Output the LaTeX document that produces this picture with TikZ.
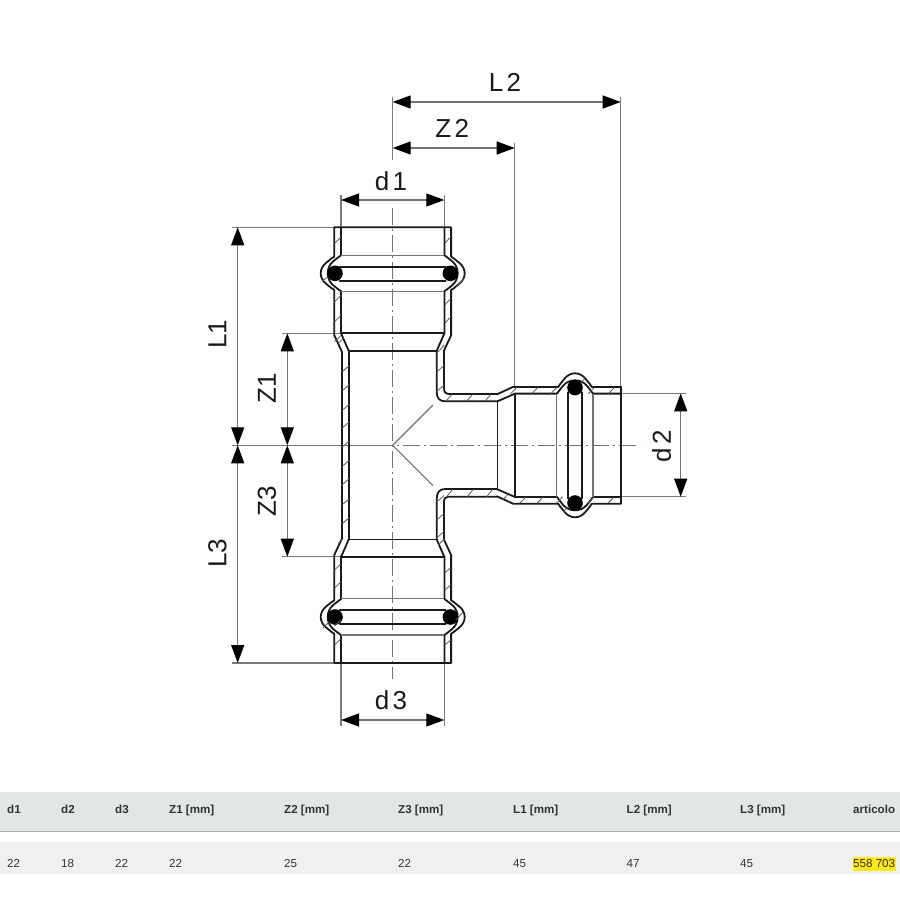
\documentclass[tikz,border=0pt]{standalone}
\usepackage{fontspec}
\setmainfont{Liberation Sans}
\usetikzlibrary{arrows.meta}
\definecolor{ink}{HTML}{1A1A1A}
\definecolor{extgray}{HTML}{7A7A7A}
\definecolor{hdrband}{HTML}{E3E6E7}
\definecolor{rowband}{HTML}{EFF1F1}
\definecolor{hdrline}{HTML}{ABABAB}
\definecolor{tabtext}{HTML}{333333}
\definecolor{hilite}{HTML}{FFE81A}
\tikzset{
  wall/.style={draw=ink,line width=1.8pt,line join=round,line cap=round},
  thinln/.style={draw=black!55,line width=1.1pt},
  ext/.style={draw=extgray,line width=1.1pt},
  hatchln/.style={draw=black!65,line width=0.8pt},
  axisln/.style={draw=black!55,line width=1.1pt,dash pattern=on 17pt off 4pt on 2pt off 4pt},
  dimln/.style={draw=black!55,line width=1.2pt,
    {Triangle[length=18pt,width=13pt,black]}-{Triangle[length=18pt,width=13pt,black]}},
  bigtxt/.style={inner sep=0pt,anchor=base,text=ink,font=\fontsize{26}{30}\selectfont},
  rottxt/.style={inner sep=0pt,rotate=90,text=ink,font=\fontsize{26}{30}\selectfont},
  hdtxt/.style={inner sep=0pt,anchor=base west,text=tabtext,font=\fontsize{11.6}{14}\selectfont\bfseries},
  rowtxt/.style={inner sep=0pt,anchor=base west,text=tabtext,font=\fontsize{11.6}{14}\selectfont},
  ring/.style={fill=black,draw=none}
}
\newcommand{\halfsocket}[4]{%
\begin{scope}[shift={(#1pt,-#2pt)},x={#3},y={#4}]
  \draw[wall] (0,0) -- (0,58.4) -- (29.3,58.4)
    .. controls (30,60.5) and (32.5,62.5) .. (35,66)
    .. controls (38,70) and (42,72) .. (46,72)
    .. controls (50,72) and (54,70) .. (57,66)
    .. controls (59.5,62.5) and (62,60.5) .. (62.7,58.4)
    -- (108,58.4) -- (124,51);
  \draw[wall] (0,51.7) -- (28,51.7)
    .. controls (30,54.5) and (32,57) .. (34,59.5)
    .. controls (37,63) and (41,65) .. (46,65)
    .. controls (51,65) and (55,63) .. (58,59.5)
    .. controls (60,57) and (62,54.5) .. (64,51.7)
    -- (106,51.7) -- (123.5,44);
  \draw[thinln] (28,0) -- (28,51.7);
  \draw[thinln] (64.5,0) -- (64.5,51.7);
  \draw[wall] (39.4,0) -- (39.4,53);
  \draw[wall] (53.4,0) -- (53.4,53);
  \draw[wall] (106,0) -- (106,51.7);
  \draw[wall] (123.5,0) -- (123.5,44);
  \fill[ring] (46,57.7) circle[radius=7.8];
\end{scope}}
\begin{document}
\begin{tikzpicture}[x=1pt,y=-1pt]
\useasboundingbox (0,0) rectangle (900,900);
\fill[white] (0,0) rectangle (900,900);

% centre lines and extension lines
\coordinate (cc) at (392.7,445.3);
\coordinate (axT) at (392.7,208);
\coordinate (axB) at (392.7,679);
\coordinate (axL) at (376,445.3);
\coordinate (axR) at (640,445.3);
\draw[axisln] (axT) -- (axB);
\draw[axisln] (axL) -- (axR);
\draw[thinln] (232,445.3) -- (axL);
\draw[ext] (392.7,96.7) -- (392.7,160);
\draw[ext] (514.7,142.7) -- (514.7,387.3);
\draw[ext] (620.7,96.7) -- (620.7,387.3);
\draw[ext] (341,195) -- (341,227.3);
\draw[ext] (444.3,195) -- (444.3,227.3);
\draw[ext] (341,663) -- (341,726);
\draw[ext] (444.3,663) -- (444.3,726);
\draw[ext] (232,227.3) -- (334.3,227.3);
\draw[ext] (232,663) -- (334.3,663);
\draw[ext] (282,333.3) -- (341,333.3);
\draw[ext] (282,556.7) -- (341,556.7);
\draw[ext] (621,393.3) -- (686,393.3);
\draw[ext] (621,496.7) -- (686,496.7);
\draw[thinln] (cc) -- (433,405);
\draw[thinln] (cc) -- (433,485.7);

% sockets
\halfsocket{392.7}{227.3}{(0pt,-1pt)}{(1pt,0pt)}
\halfsocket{392.7}{227.3}{(0pt,-1pt)}{(-1pt,0pt)}
\halfsocket{392.7}{663}{(0pt,1pt)}{(1pt,0pt)}
\halfsocket{392.7}{663}{(0pt,1pt)}{(-1pt,0pt)}
\halfsocket{621}{445.3}{(-1pt,0pt)}{(0pt,1pt)}
\halfsocket{621}{445.3}{(-1pt,0pt)}{(0pt,-1pt)}

% body walls
\draw[wall] (342,351.5) -- (342,539);
\draw[wall] (349.3,350.5) -- (349.3,539.3);
\draw[wall] (444,351.5) -- (444,388) .. controls (444,392) and (445.5,394) .. (448.3,394) -- (497.3,394);
\draw[wall] (436.7,350.5) -- (436.7,391.7) .. controls (436.7,398) and (439.5,401.3) .. (445,401.3) -- (497.3,401.3);
\draw[wall] (444,539) -- (444,502) .. controls (444,498.5) and (445.5,496.7) .. (448.3,496.7) -- (497.3,496.7);
\draw[wall] (436.7,539.3) -- (436.7,499) .. controls (436.7,492.5) and (439.5,489) .. (445,489) -- (497.3,489);

% hatching
\foreach \yy in {372,391,410.7,428.3,447.3,466.7,485,505,524}{
  \draw[hatchln] (342,\yy) -- (349.3,\yy-6.5);}
\foreach \yy in {372,391.5,502,520,538}{
  \draw[hatchln] (436.7,\yy) -- (444,\yy-6.5);}
\foreach \xx in {446,466.7,485}{
  \draw[hatchln] (\xx,401) -- (\xx+6,394.3);}
\foreach \xx in {446.7,467.3,486.7}{
  \draw[hatchln] (\xx,496.7) -- (\xx+6,489.3);}
\foreach \xx in {510.7,531.7,550.7,588.3,608.3}{
  \draw[hatchln] (\xx,393.7) -- (\xx+6,387.5);}
\foreach \xx in {520,537.3,556.7,588.3,608.3}{
  \draw[hatchln] (\xx,503) -- (\xx+6,496.8);}
\draw[hatchln] (502.7,500) -- (507.3,495);
\draw[hatchln] (581.7,381.7) -- (585,378.3);
\draw[hatchln] (563.3,511.7) -- (568.3,506.7);
\foreach \yy in {243.3,301.7,321.7,341.7}{
  \draw[hatchln] (334.6,\yy) -- (340.7,\yy-6);}
\foreach \yy in {243.3,305,323.3}{
  \draw[hatchln] (444.8,\yy) -- (450.7,\yy-6.5);}
\draw[hatchln] (338.3,343.3) -- (343.3,338.3);
\draw[hatchln] (438.3,351.7) -- (444.3,345);
\draw[hatchln] (322,281) -- (328.3,276.7);
\draw[hatchln] (456.7,286.7) -- (464,278.3);
\foreach \yy in {570,588,626,645}{
  \draw[hatchln] (334.6,\yy) -- (340.7,\yy-6);}
\foreach \yy in {572.7,590,645}{
  \draw[hatchln] (444.8,\yy) -- (450.7,\yy-5);}
\draw[hatchln] (338.3,543.3) -- (343.3,538.3);
\draw[hatchln] (438.3,545) -- (444.3,539);
\draw[hatchln] (456,620) -- (463,612);
\draw[hatchln] (323,628) -- (329,622);

% dimensions
\coordinate (L2a) at (392.7,102); \coordinate (L2b) at (620.7,102);
\coordinate (Z2a) at (392.7,148); \coordinate (Z2b) at (514.7,148);
\coordinate (d1a) at (341,200);   \coordinate (d1b) at (444.3,200);
\coordinate (d3a) at (341,720);   \coordinate (d3b) at (444.3,720);
\coordinate (d2a) at (680.7,393.3); \coordinate (d2b) at (680.7,496.7);
\coordinate (L1a) at (237.7,227.3); \coordinate (L1b) at (237.7,445.3); \coordinate (L3b) at (237.7,663);
\coordinate (Z1a) at (287.3,333.3); \coordinate (Z1b) at (287.3,445.3); \coordinate (Z3b) at (287.3,556.7);
\draw[dimln] (L2a) -- (L2b);
\draw[dimln] (Z2a) -- (Z2b);
\draw[dimln] (d1a) -- (d1b);
\draw[dimln] (d3a) -- (d3b);
\draw[dimln] (d2a) -- (d2b);
\draw[dimln] (L1a) -- (L1b);
\draw[dimln] (L1b) -- (L3b);
\draw[dimln] (Z1a) -- (Z1b);
\draw[dimln] (Z1b) -- (Z3b);

\node[bigtxt] (tL2) at (505,91.7) {L\hspace{0.13em}2};
\node[bigtxt] (tZ2) at (452.2,137.3) {Z\hspace{0.13em}2};
\node[bigtxt] (td1) at (391,190) {d\hspace{0.13em}1};
\node[bigtxt] (td3) at (391,709) {d\hspace{0.13em}3};
\node[rottxt] (td2) at (661.5,446.5) {d\hspace{0.13em}2};
\node[rottxt] (tL1) at (217.5,334.5) {L1};
\node[rottxt] (tZ1) at (267,388.5) {Z1};
\node[rottxt] (tZ3) at (267,501.5) {Z3};
\node[rottxt] (tL3) at (217.5,553) {L3};

% table
\fill[hdrband] (0,792) rectangle (900,831.5);
\draw[hdrline,line width=1pt] (0,831.7) -- (900,831.7);
\fill[rowband] (0,842.3) rectangle (900,873.7);
\fill[hilite] (852.7,856.7) rectangle (896,871);
\node[hdtxt] (h1) at (7,813) {d1};
\node[hdtxt] (h2) at (61,813) {d2};
\node[hdtxt] (h3) at (115,813) {d3};
\node[hdtxt] (h4) at (169,813) {Z1 [mm]};
\node[hdtxt] (h5) at (284,813) {Z2 [mm]};
\node[hdtxt] (h6) at (398,813) {Z3 [mm]};
\node[hdtxt] (h7) at (513,813) {L1 [mm]};
\node[hdtxt] (h8) at (626.5,813) {L2 [mm]};
\node[hdtxt] (h9) at (740,813) {L3 [mm]};
\node[hdtxt] (h10) at (853,813) {articolo};
\node[rowtxt] (r1) at (7,867.7) {22};
\node[rowtxt] (r2) at (61,867.7) {18};
\node[rowtxt] (r3) at (115,867.7) {22};
\node[rowtxt] (r4) at (169,867.7) {22};
\node[rowtxt] (r5) at (284,867.7) {25};
\node[rowtxt] (r6) at (398,867.7) {22};
\node[rowtxt] (r7) at (513,867.7) {45};
\node[rowtxt] (r8) at (626.5,867.7) {47};
\node[rowtxt] (r9) at (740,867.7) {45};
\node[rowtxt] (r10) at (853,867.7) {558 703};
\end{tikzpicture}
\end{document}
